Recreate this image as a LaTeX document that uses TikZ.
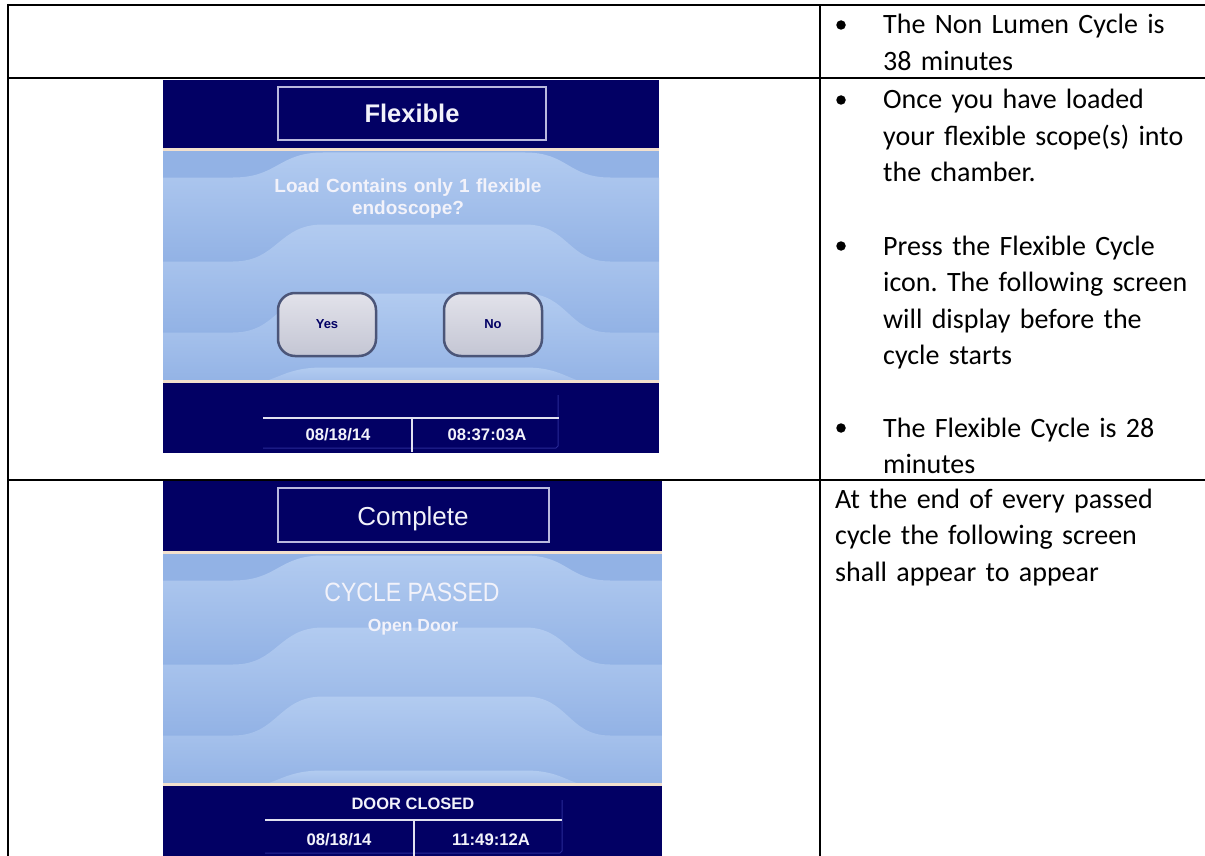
\documentclass[tikz,border=0pt]{standalone}
\usepackage{fontspec}
\setmainfont{Carlito}
\newfontfamily\arialf{Liberation Sans}
\frenchspacing
\definecolor{navy}{RGB}{2,0,100}
\definecolor{bandlight}{RGB}{178,203,240}
\definecolor{banddark}{RGB}{146,178,229}
\definecolor{cream}{RGB}{242,224,205}
\definecolor{boxline}{RGB}{185,185,222}
\definecolor{scrtext}{RGB}{242,242,250}
\definecolor{statwhite}{RGB}{225,225,240}
\definecolor{dimline}{RGB}{40,40,150}
\definecolor{btntop}{RGB}{226,226,234}
\definecolor{btnbot}{RGB}{196,198,212}
\definecolor{btnedge}{RGB}{75,85,120}
\tikzset{
  gridline/.style={line width=2pt, draw=black},
  celltext/.style={anchor=base west, align=left, text width=360pt, inner sep=0pt, font=\fontsize{28}{36.5}\selectfont},
  bulletdot/.style={circle, fill=black, inner sep=0pt, minimum size=9.5pt},
  hdrbox/.style={draw=boxline, line width=1.5pt, minimum width=268pt, minimum height=53pt, inner sep=0pt},
  hdrtext/.style={anchor=base, inner sep=0pt, text=scrtext},
  msgtext/.style={anchor=base, inner sep=0pt, text=scrtext, align=center, text width=320pt, font=\arialf\bfseries\fontsize{19}{22}\selectfont},
  stattext/.style={anchor=base, inner sep=0pt, text=scrtext, font=\arialf\bfseries\fontsize{16.7}{20}\selectfont},
  statline/.style={draw=statwhite, line width=1.6pt},
  dimedge/.style={draw=dimline, line width=1pt},
  btn/.style={draw=btnedge, line width=2.5pt, rounded corners=17pt, minimum width=98pt, minimum height=63pt, top color=btntop, bottom color=btnbot, text=navy, font=\arialf\bfseries\fontsize{13}{15}\selectfont},
}
\newcommand\wavebody[3]{%
\begin{scope}[shift={(#1,#2)}]
  \fill[banddark] (0,0) rectangle (#3,232);
  \begin{scope}
    \clip (0,0) rectangle (#3,232);
    \foreach \lb/\cb/\nb in {28/3/112, 112/75/183, 183/144/236, 236/218/245} {
      \shade[top color=bandlight, bottom color=banddark]
        (0,\lb) -- (70,\lb) .. controls (115,\lb) and (115,\cb) .. (160,\cb)
        -- (362,\cb) .. controls (405,\cb) and (405,\lb) .. (447,\lb)
        -- (#3,\lb) -- (#3,\nb) -- (0,\nb) -- cycle;
    }
  \end{scope}
  \draw[cream, line width=2.5pt] (0,0) -- (#3,0);
  \draw[cream, line width=2.5pt] (0,232) -- (#3,232);
\end{scope}}
\begin{document}
\begin{tikzpicture}[x=1pt,y=-1pt]
\useasboundingbox (0,0) rectangle (1205,856);
\fill[white] (0,0) rectangle (1205,856);

% ---------- screen 1 ----------
\fill[navy] (163,80) rectangle (659,453);
\wavebody{163}{149.5}{496}
\node[hdrbox] (h1box) at (412,113.5) {};
\node[hdrtext, font=\arialf\bfseries\fontsize{25.5}{30}\selectfont] (h1) at (412,123) {Flexible};
\node[msgtext] (q1) at (408,192) {Load Contains only 1 flexible\\endoscope?};
\node[btn] (yes) at (327,324.5) {Yes};
\node[btn] (no) at (493,324.5) {No};
\draw[dimedge] (263,448) -- (556,448) -- (558,446) -- (558,395);
\draw[statline] (263,418) -- (559,418);
\draw[statline] (412,418) -- (412,452);
\node[stattext] (d1) at (338,440.5) {08/18/14};
\node[stattext] (t1) at (487,440.5) {08:37:03A};

% ---------- screen 2 ----------
\fill[navy] (163,481) rectangle (662,856);
\wavebody{163}{552.5}{499}
\node[hdrbox, minimum width=271pt, minimum height=54pt] (h2box) at (413.5,515) {};
\node[hdrtext, font=\arialf\fontsize{26}{30}\selectfont] (h2) at (413,525) {Complete};
\node[hdrtext, font=\arialf\fontsize{26.5}{30}\selectfont] (cp) at (412,601.5) {\scalebox{0.87}[1]{CYCLE PASSED}};
\node[hdrtext, font=\arialf\bfseries\fontsize{17.5}{20}\selectfont] (od) at (413,631.5) {Open Door};
\node[hdrtext, font=\arialf\bfseries\fontsize{16.5}{20}\selectfont] (dc) at (413,809) {DOOR CLOSED};
\draw[dimedge] (265,853) -- (560,853) -- (562,851) -- (562,800);
\draw[statline] (265,820) -- (562,820);
\draw[statline] (414,820) -- (414,856);
\node[stattext] (d2) at (339,845) {08/18/14};
\node[stattext] (t2) at (491,845) {11:49:12A};

% ---------- right column text ----------
\node[celltext] (r1) at (883,34) {The Non Lumen Cycle is\\38 minutes};
\node[bulletdot] (b1) at (841,25) {};
\node[celltext] (r2a) at (883,109) {Once you have loaded\\your flexible scope(s) into\\the chamber.};
\node[bulletdot] (b2) at (841,100) {};
\node[celltext] (r2b) at (883,255) {Press the Flexible Cycle\\icon. The following screen\\will display before the\\cycle starts};
\node[bulletdot] (b3) at (841,246) {};
\node[celltext] (r2c) at (883,437) {The Flexible Cycle is 28\\minutes};
\node[bulletdot] (b4) at (841,428) {};
\node[celltext] (r3) at (835,508) {At the end of every passed\\cycle the following screen\\shall appear to appear};

% ---------- table grid ----------
\draw[gridline] (7,5) -- (1206,5);
\draw[gridline] (8,4) -- (8,857);
\draw[gridline] (820,5) -- (820,857);
\draw[gridline] (8,78.5) -- (1206,78.5);
\draw[gridline] (8,480) -- (1206,480);
\end{tikzpicture}
\end{document}
